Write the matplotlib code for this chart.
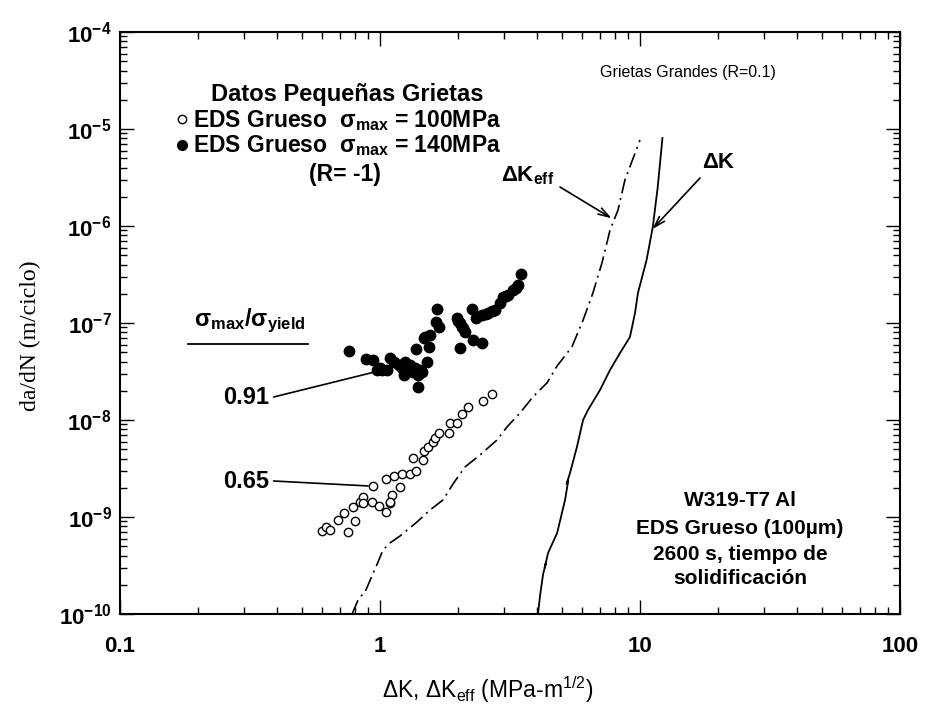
import matplotlib
matplotlib.use("Agg")
import matplotlib.pyplot as plt
from matplotlib.ticker import LogLocator, NullFormatter

plt.rcParams['font.family'] = ['Liberation Sans', 'DejaVu Sans']
plt.rcParams['mathtext.default'] = 'regular'

# Small-crack data, coarse SDAS, sigma_max = 100 MPa (open symbols)
dk_100 = [0.60, 0.62, 0.64, 0.69, 0.73, 0.755, 0.80, 0.79, 0.84, 0.86, 0.86,
          0.93, 0.99, 1.05, 1.09, 1.11, 1.19, 0.94, 1.05, 1.13, 1.21, 1.30,
          1.38, 1.34, 1.46, 1.48, 1.53, 1.60, 1.63, 1.68, 1.85, 1.86, 1.97,
          2.06, 2.18, 2.50, 2.69, 1.09]
dadn_100 = [7.2e-10, 7.8e-10, 7.4e-10, 9.3e-10, 1.10e-9, 7.0e-10, 9.0e-10,
            1.28e-9, 1.44e-9, 1.62e-9, 1.38e-9, 1.44e-9, 1.30e-9, 1.13e-9,
            1.38e-9, 1.69e-9, 2.02e-9, 2.09e-9, 2.45e-9, 2.65e-9, 2.78e-9,
            2.78e-9, 3.0e-9, 4.1e-9, 3.9e-9, 4.8e-9, 5.3e-9, 6.0e-9, 6.6e-9,
            7.3e-9, 7.4e-9, 9.4e-9, 9.3e-9, 1.15e-8, 1.35e-8, 1.58e-8,
            1.85e-8, 1.44e-9]

# Small-crack data, coarse SDAS, sigma_max = 140 MPa (filled symbols)
dk_140 = [0.76, 0.88, 0.94, 0.97, 1.02, 1.09, 1.13, 1.18, 1.25, 1.24, 1.30,
          1.34, 1.40, 1.38, 1.51, 1.55, 1.47, 1.56, 1.64, 1.69, 1.65, 1.40,
          1.45, 1.97, 2.03, 2.09, 2.12, 2.25, 2.34, 2.03, 2.27, 2.46, 2.46,
          2.61, 2.77, 2.89, 2.98, 3.12, 3.26, 3.40, 3.49, 1.00, 1.06, 1.21,
          1.36, 1.42, 1.49, 2.00, 2.06, 2.55, 2.70, 3.05, 3.33]
dadn_140 = [5.2e-8, 4.3e-8, 4.2e-8, 3.3e-8, 3.3e-8, 4.4e-8, 4.0e-8, 3.7e-8,
            4.0e-8, 2.9e-8, 3.7e-8, 3.15e-8, 2.9e-8, 5.4e-8, 4.0e-8, 5.6e-8,
            6.95e-8, 7.5e-8, 1.03e-7, 9.2e-8, 1.38e-7, 2.2e-8, 3.15e-8,
            1.12e-7, 9.9e-8, 8.8e-8, 8.1e-8, 1.38e-7, 1.12e-7, 5.5e-8,
            6.7e-8, 6.2e-8, 1.21e-7, 1.26e-7, 1.36e-7, 1.60e-7, 1.87e-7,
            1.95e-7, 2.19e-7, 2.47e-7, 3.2e-7, 3.4e-8, 3.3e-8, 3.4e-8,
            3.4e-8, 3.3e-8, 7.2e-8, 1.05e-7, 9.2e-8, 1.24e-7, 1.32e-7,
            1.9e-7, 2.3e-7]

# Long-crack curve (R = 0.1) versus applied Delta K
dk_long = [4.05, 4.13, 4.24, 4.35, 4.30, 4.43, 4.80, 5.15, 5.30, 5.22, 5.38,
           5.72, 6.04, 6.31, 7.02, 7.67, 8.38, 9.15, 9.57, 9.82, 10.6, 11.2,
           11.7, 12.2]
dadn_long = [1.0e-10, 1.57e-10, 2.58e-10, 3.4e-10, 3.0e-10, 4.26e-10,
             6.84e-10, 1.50e-9, 2.4e-9, 2.2e-9, 2.84e-9, 5.27e-9, 1.0e-8,
             1.27e-8, 2.04e-8, 3.28e-8, 4.91e-8, 7.18e-8, 1.27e-7, 2.04e-7,
             4.46e-7, 9.77e-7, 2.52e-6, 8.07e-6]

# Long-crack curve (R = 0.1) versus effective Delta K
dk_eff = [0.781, 0.823, 0.883, 0.931, 0.983, 1.027, 1.092, 1.194, 1.387,
          1.557, 1.747, 1.909, 2.122, 2.425, 2.818, 3.077, 3.455, 3.874,
          4.387, 4.80, 5.47, 6.04, 6.59, 7.14, 7.67, 8.23, 8.75, 10.0]
dadn_eff = [1.0e-10, 1.39e-10, 1.77e-10, 2.46e-10, 3.44e-10, 4.57e-10,
            5.40e-10, 6.37e-10, 8.88e-10, 1.18e-9, 1.50e-9, 2.19e-9,
            3.28e-9, 4.36e-9, 6.22e-9, 8.47e-9, 1.18e-8, 1.73e-8, 2.41e-8,
            3.61e-8, 5.66e-8, 1.07e-7, 2.04e-7, 4.16e-7, 9.1e-7, 1.46e-6,
            2.98e-6, 7.7e-6]

x_ticks = [0.1, 1, 10, 100]
x_ticklabels = ['0.1', '1', '10', '100']
y_ticks = [1e-10, 1e-9, 1e-8, 1e-7, 1e-6, 1e-5, 1e-4]
y_ticklabels = ['$10^{-10}$', '$10^{-9}$', '$10^{-8}$', '$10^{-7}$',
                '$10^{-6}$', '$10^{-5}$', '$10^{-4}$']

W, H = 927, 718
fig = plt.figure(figsize=(W / 100, H / 100), dpi=100)
ax = fig.add_axes([120 / W, 1 - 614 / H, 780 / W, 582 / H])


def fp(px, py):
    """Pixel position (from top-left) to figure fraction."""
    return (px / W, 1 - py / H)


ax.set_xscale('log')
ax.set_yscale('log')
ax.set_xlim(0.1, 100)
ax.set_ylim(1e-10, 1e-4)

ax.plot(dk_eff, dadn_eff, color='black', lw=1.2,
        linestyle=(0, (9, 3, 1.2, 3)), clip_on=True)
ax.plot(dk_long, dadn_long, color='black', lw=1.3)
ax.plot(dk_100, dadn_100, linestyle='none', marker='o', ms=6,
        mfc='white', mec='black', mew=1.0)
ax.plot(dk_140, dadn_140, linestyle='none', marker='o', ms=7.5,
        mfc='black', mec='black')

ax.set_xticks(x_ticks, labels=x_ticklabels)
ax.set_yticks(y_ticks, labels=y_ticklabels)
ax.xaxis.set_minor_locator(LogLocator(base=10, subs=range(2, 10), numticks=20))
ax.yaxis.set_minor_locator(LogLocator(base=10, subs=range(2, 10), numticks=20))
ax.xaxis.set_minor_formatter(NullFormatter())
ax.yaxis.set_minor_formatter(NullFormatter())
ax.tick_params(which='both', direction='in', top=True, right=True,
               width=1.0, color='black')
ax.tick_params(which='major', length=10)
ax.tick_params(which='minor', length=5)
ax.tick_params(axis='x', which='major', pad=16, labelsize=16)
ax.tick_params(axis='y', which='major', pad=6, labelsize=16)
for lab in ax.get_xticklabels() + ax.get_yticklabels():
    lab.set_fontweight('bold')
for sp in ax.spines.values():
    sp.set_linewidth(1.5)

# Axis titles
fig.text(*fp(488, 690), 'ΔK, ΔK$_{eff}$ (MPa-m$^{1/2}$)', ha='center',
         va='center', fontsize=16.5)
fig.text(*fp(30, 336), 'da/dN (m/ciclo)', rotation=90, ha='center',
         va='center', fontsize=17, family=['Liberation Serif', 'DejaVu Serif'])

# Small-crack legend block
fig.text(*fp(347, 94), 'Datos Pequeñas Grietas', ha='center', va='center',
         fontsize=17, fontweight='bold')
fig.text(*fp(193, 121), 'EDS Grueso  $σ_{max}$ = 100MPa', ha='left',
         va='center', fontsize=16.5, fontweight='bold')
fig.text(*fp(193, 146), 'EDS Grueso  $σ_{max}$ = 140MPa', ha='left',
         va='center', fontsize=16.5, fontweight='bold')
fig.text(*fp(345, 175), '(R= -1)', ha='center', va='center',
         fontsize=16.5, fontweight='bold')
ax.plot([fp(182, 119)[0]], [fp(182, 119)[1]], transform=fig.transFigure,
        marker='o', ms=6, mfc='white', mec='black', mew=1.0, clip_on=False)
ax.plot([fp(182, 145)[0]], [fp(182, 145)[1]], transform=fig.transFigure,
        marker='o', ms=7, mfc='black', mec='black', clip_on=False)

fig.text(*fp(688, 73), 'Grietas Grandes (R=0.1)', ha='center', va='center',
         fontsize=11.5)

# Stress ratio labels
fig.text(*fp(250, 321), '$σ_{max}/σ_{yield}$', ha='center', va='center',
         fontsize=17, fontweight='bold')
fig.add_artist(plt.Line2D([188 / W, 308 / W], [1 - 344 / H, 1 - 344 / H],
                          color='black', lw=1.3))
ax.annotate('0.91', xy=(0.965, 3.15e-8), xytext=fp(246, 397),
            textcoords='figure fraction', ha='center', va='center',
            fontsize=17, fontweight='bold',
            arrowprops=dict(arrowstyle='-', color='black', lw=1.2,
                            shrinkA=0, shrinkB=0,
                            relpos=(1.1, 0.5)))
ax.annotate('0.65', xy=(0.90, 2.09e-9), xytext=fp(246, 481),
            textcoords='figure fraction', ha='center', va='center',
            fontsize=17, fontweight='bold',
            arrowprops=dict(arrowstyle='-', color='black', lw=1.2,
                            shrinkA=0, shrinkB=0,
                            relpos=(1.1, 0.5)))

# Curve labels with arrows
fig.text(*fp(528, 176), 'ΔK$_{eff}$', ha='center', va='center',
         fontsize=16, fontweight='bold')
ax.annotate('', xy=(7.78, 1.2e-6), xytext=fp(560, 187),
            textcoords='figure fraction',
            arrowprops=dict(arrowstyle='->,head_length=0.8,head_width=0.25',
                            color='black', lw=1.2, shrinkA=0, shrinkB=0))
fig.text(*fp(718, 163), 'ΔK', ha='center', va='center',
         fontsize=16, fontweight='bold')
ax.annotate('', xy=(11.17, 9.3e-7), xytext=fp(700, 178),
            textcoords='figure fraction',
            arrowprops=dict(arrowstyle='->,head_length=0.8,head_width=0.25',
                            color='black', lw=1.2, shrinkA=0, shrinkB=0))

# Material description
for txt, py in [('W319-T7 Al', 501), ('EDS Grueso (100µm)', 529),
                ('2600 s, tiempo de', 555), ('solidificación', 578)]:
    fig.text(*fp(740, py), txt, ha='center', va='center', fontsize=15,
             fontweight='bold')

fig.savefig('out.png', dpi=100, facecolor='white')
